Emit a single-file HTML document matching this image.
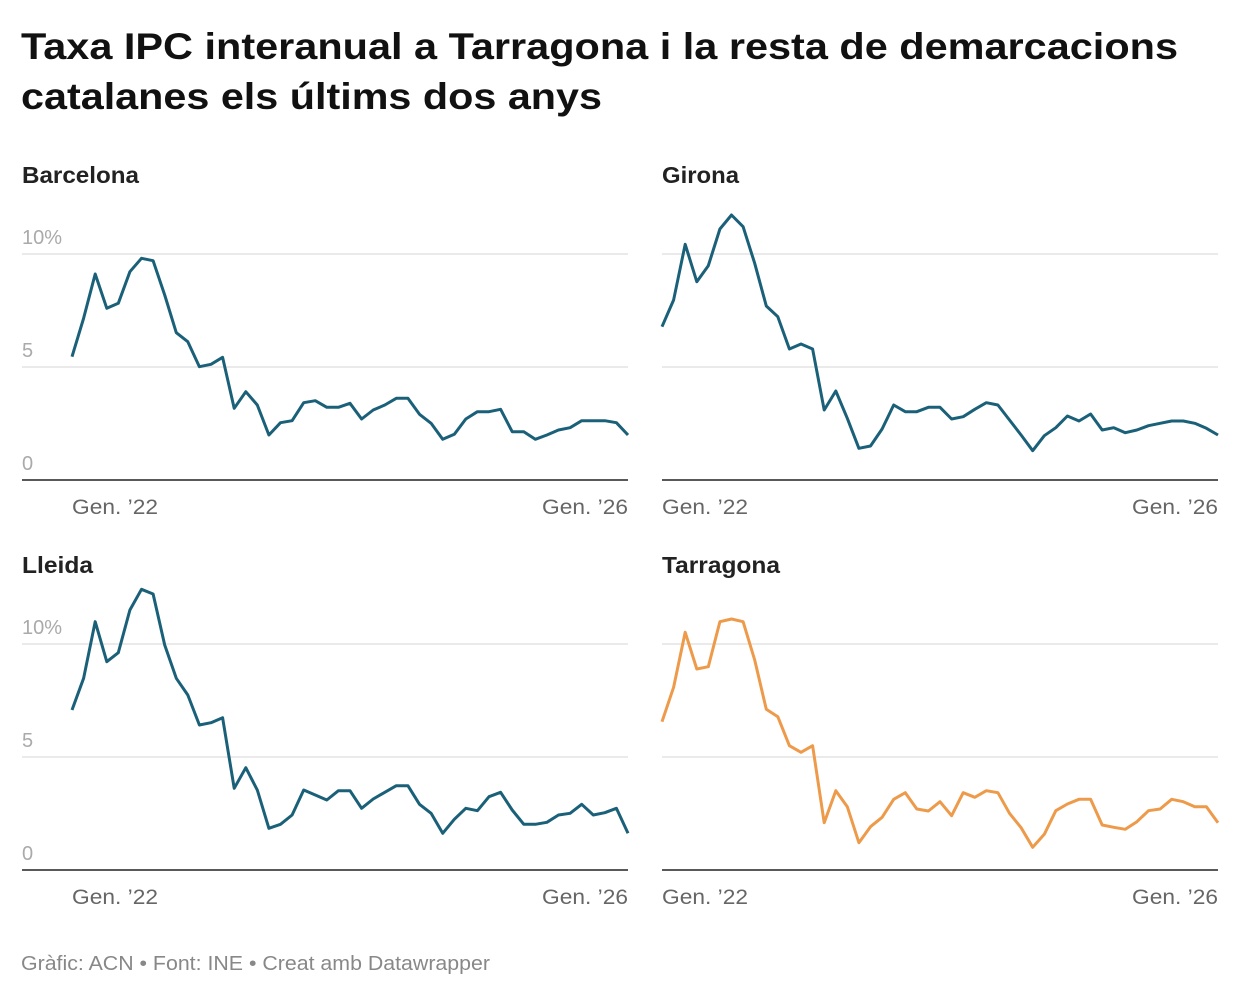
<!DOCTYPE html>
<html><head><meta charset="utf-8"><style>
body{margin:0;background:#fff;font-family:"Liberation Sans",Arial,sans-serif;}
svg text{font-family:"Liberation Sans",Arial,sans-serif;}
</style></head><body>
<svg id="s" width="1240" height="996" xmlns="http://www.w3.org/2000/svg">
<text x="21" y="59" font-size="37" font-weight="bold" fill="#111" textLength="1157" lengthAdjust="spacingAndGlyphs">Taxa IPC interanual a Tarragona i la resta de demarcacions</text>
<text x="21" y="109" font-size="37" font-weight="bold" fill="#111" textLength="581" lengthAdjust="spacingAndGlyphs">catalanes els últims dos anys</text>
<text x="21" y="970" font-size="20" fill="#888" textLength="469" lengthAdjust="spacingAndGlyphs">Gràfic: ACN • Font: INE • Creat amb Datawrapper</text>
</svg>
<script>
var S=document.getElementById('s'),NS='http://www.w3.org/2000/svg';
function el(t,a,txt){var e=document.createElementNS(NS,t);for(var k in a)e.setAttribute(k,a[k]);if(txt)e.textContent=txt;S.appendChild(e);return e;}
var panels=[
{n:'Barcelona',w:117,x0:22,x1:628,top:175,oy:250,lab:true,c:'#1b6079',z:[320,205,72,175,160,65,25,32,135,248,275,350,343,322,475,425,465,555,518,512,458,452,472,472,460,507,480,465,445,445,493,520,568,553,507,485,485,478,545,545,568,555,540,533,512,512,512,518,555]},
{n:'Girona',w:77,x0:662,x1:1218,top:175,oy:200,lab:false,c:'#1b6079',z:[380,300,133,245,197,87,45,80,190,318,350,447,432,447,630,573,655,745,738,687,615,635,635,622,622,657,650,628,608,615,660,705,752,707,683,648,663,642,690,683,698,690,677,670,663,663,670,685,705]},
{n:'Lleida',w:71,x0:22,x1:628,top:565,oy:580,lab:true,c:'#1b6079',z:[390,295,125,245,218,90,28,42,195,295,345,435,428,413,625,563,630,745,733,705,630,645,660,632,632,685,657,637,617,617,673,700,760,718,685,692,650,637,690,733,733,727,705,700,673,705,698,685,760]},
{n:'Tarragona',w:118,x0:662,x1:1218,top:565,oy:600,lab:false,c:'#ed9a4a',z:[365,262,97,207,200,65,57,65,180,328,350,437,457,437,668,572,620,728,680,652,598,578,627,633,605,647,578,592,572,578,640,683,742,703,632,612,598,598,675,682,688,665,632,627,598,605,620,620,668]}
];
panels.forEach(function(p){
 var b=p.top;
 el('text',{x:p.x0,y:b+8,'font-size':23,'font-weight':'bold',fill:'#222',textLength:p.w,lengthAdjust:'spacingAndGlyphs'},p.n);
 var y0=b+305,y5=b+192,y10=b+79;
 el('line',{x1:p.x0,x2:p.x1,y1:y10,y2:y10,stroke:'#e3e3e3','stroke-width':1.5});
 el('line',{x1:p.x0,x2:p.x1,y1:y5,y2:y5,stroke:'#e3e3e3','stroke-width':1.5});
 if(p.lab){
  el('text',{x:p.x0,y:y10-10,'font-size':20,fill:'#aaa'},'10%');
  el('text',{x:p.x0,y:y5-10,'font-size':20,fill:'#aaa'},'5');
  el('text',{x:p.x0,y:y0-10,'font-size':20,fill:'#aaa'},'0');
 }
 var xs=p.x0+(p.lab?50:0), xe=p.x1;
 el('text',{x:xs,y:y0+34,'font-size':21,fill:'#666',textLength:86,lengthAdjust:'spacingAndGlyphs'},'Gen. ’22');
 el('text',{x:xe-86,y:y0+34,'font-size':21,fill:'#666',textLength:86,lengthAdjust:'spacingAndGlyphs'},'Gen. ’26');
 var d='';
 p.z.forEach(function(v,i){var x=xs+i*(xe-xs)/48,y=p.oy+v/3;d+=(i?'L':'M')+x.toFixed(1)+','+y.toFixed(1);});
 el('path',{d:d,fill:'none',stroke:p.c,'stroke-width':3,'stroke-linejoin':'round'});
 el('line',{x1:p.x0,x2:p.x1,y1:y0,y2:y0,stroke:'#222','stroke-width':1.5});
});
</script>
</body></html>
